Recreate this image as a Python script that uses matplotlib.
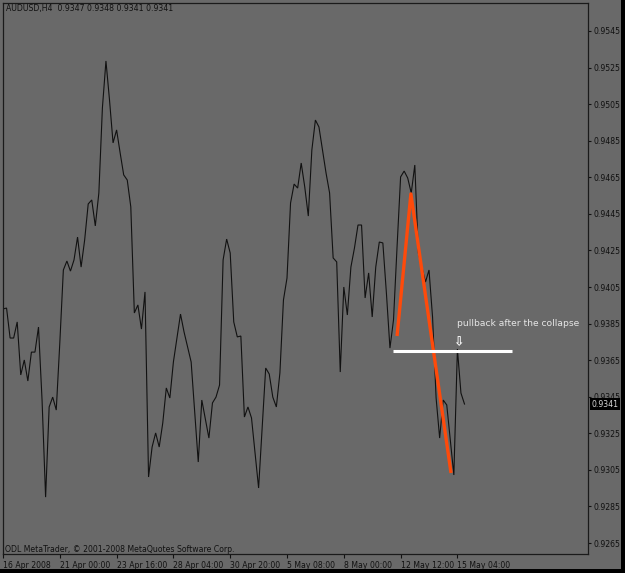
import matplotlib
matplotlib.use("Agg")
import matplotlib.pyplot as plt
from matplotlib.patches import Rectangle
from matplotlib.transforms import blended_transform_factory

# ---------------- data ----------------
bars = [0, 1, 2, 3, 4, 5, 6, 7, 8, 9, 10, 11, 12, 13, 14, 15, 16, 17, 18, 19,
        20, 21, 22, 23, 24, 25, 26, 27, 28, 29, 30, 31, 32, 33, 34, 35, 36, 37,
        38, 39, 40, 41, 42, 43, 44, 45, 46, 47, 48, 50, 51, 53, 55, 56, 58, 59,
        60, 61, 62, 63, 64, 65, 66, 67, 68, 69, 70, 72, 73, 74, 75, 76, 77, 78,
        79, 80, 81, 82, 83, 84, 85, 86, 87, 88, 89, 90, 91, 92, 93, 94, 95, 96,
        97, 98, 99, 100, 101, 102, 103, 104, 105, 106, 107, 108, 109, 110, 111,
        112, 113, 114, 115, 116, 117, 118, 119, 120, 121, 122, 123, 124, 125,
        127, 128, 129, 130]
close = [0.93930, 0.93935, 0.93771, 0.93771, 0.93859, 0.93569, 0.93651, 0.93536,
         0.93694, 0.93694, 0.93831, 0.93432, 0.92901, 0.93394, 0.93448, 0.93377,
         0.93744, 0.94143, 0.94192, 0.94137, 0.94198, 0.94323, 0.94159, 0.94307,
         0.94504, 0.94526, 0.94384, 0.94564, 0.95029, 0.95286, 0.95073, 0.94838,
         0.94909, 0.94783, 0.94663, 0.94635, 0.94488, 0.93908, 0.93952, 0.93820,
         0.94023, 0.93011, 0.93175, 0.93252, 0.93175, 0.93306, 0.93498, 0.93443,
         0.93640, 0.93902, 0.93804, 0.93640, 0.93093, 0.93432, 0.93224, 0.93416,
         0.93448, 0.93514, 0.94198, 0.94312, 0.94236, 0.93859, 0.93777, 0.93782,
         0.93339, 0.93394, 0.93334, 0.92951, 0.93279, 0.93607, 0.93574, 0.93448,
         0.93394, 0.93580, 0.93979, 0.94099, 0.94509, 0.94613, 0.94591, 0.94728,
         0.94597, 0.94438, 0.94799, 0.94963, 0.94925, 0.94799, 0.94673, 0.94564,
         0.94209, 0.94187, 0.93585, 0.94050, 0.93897, 0.94159, 0.94263, 0.94389,
         0.94389, 0.93990, 0.94127, 0.93886, 0.94159, 0.94296, 0.94291, 0.94017,
         0.93716, 0.93870, 0.94269, 0.94652, 0.94684, 0.94646, 0.94564, 0.94717,
         0.94236, 0.94159, 0.94077, 0.94143, 0.93886, 0.93443, 0.93224, 0.93432,
         0.93405, 0.93022, 0.93711, 0.93470, 0.93410]

tick_bars = [0, 16, 32, 48, 64, 80, 96, 112, 128]
tick_labels = ["16 Apr 2008", "21 Apr 00:00", "23 Apr 16:00", "28 Apr 04:00",
               "30 Apr 20:00", "5 May 08:00", "8 May 00:00", "12 May 12:00",
               "15 May 04:00"]
price_ticks = [0.9265, 0.9285, 0.9305, 0.9325, 0.9345, 0.9365, 0.9385, 0.9405,
               0.9425, 0.9445, 0.9465, 0.9485, 0.9505, 0.9525, 0.9545]

trend_x = [111.0, 114.9, 126.2]
trend_y = [0.93782, 0.94559, 0.93033]
level_x = [109.9, 143.4]
level_y = 0.93700
arrow_bar, arrow_price = 128.4, 0.93748
note_bar, note_price = 127.9, 0.93853
header = "AUDUSD,H4  0.9347 0.9348 0.9341 0.9341"
last_price = 0.9341

# ---------------- figure ----------------
BG = "#696969"
W, H = 625, 573
fig = plt.figure(figsize=(W / 100, H / 100), dpi=100, facecolor=BG)
ax = fig.add_axes([3 / W, 1 - 554 / H, 585 / W, 551 / H], facecolor=BG)

plt.rcParams["font.family"] = ["DejaVu Sans"]
fs = 5.6

ax.plot(bars, close, color="#111111", lw=0.8, solid_joinstyle="miter")
ax.plot(trend_x, trend_y, color="#ff4a0a", lw=2.4, solid_capstyle="butt")
ax.plot(level_x, [level_y, level_y], color="white", lw=2.2, solid_capstyle="butt")
ax.text(arrow_bar, arrow_price, "\u21e9", color="white", fontsize=9,
        fontweight="bold", ha="center", va="center")
ax.text(note_bar, note_price, "pullback after the collapse", color="#e6e6e6",
        fontsize=6.6, ha="left", va="center")

ax.set_xlim(0, 585 / 3.55)
ax.set_ylim(0.92590, 0.95603)

ax.set_xticks(tick_bars)
ax.set_xticklabels(tick_labels, fontsize=fs, color="#111111")
for lab in ax.get_xticklabels():
    lab.set_ha("left")
ax.tick_params(axis="x", direction="out", length=3, width=0.8, color="#111111",
               pad=2)

ax.yaxis.tick_right()
ax.set_yticks(price_ticks)
ax.set_yticklabels([f"{p:.4f}" for p in price_ticks], fontsize=fs, color="#111111")
ax.tick_params(axis="y", direction="out", length=2.5, width=0.8, color="#111111",
               pad=1.5)

for s in ax.spines.values():
    s.set_color("#1a1a1a")
    s.set_linewidth(0.9)

# current price box
tr = blended_transform_factory(ax.transAxes, ax.transData)
ax.text(1.006, last_price, f"{last_price:.4f}", transform=tr, fontsize=fs,
        color="#d8d8d8", ha="left", va="center", clip_on=False, zorder=10,
        bbox=dict(boxstyle="square,pad=0.15", facecolor="black", edgecolor="none"))

fig.text(6 / W, 1 - 8.5 / H, header, fontsize=fs, color="#111111",
         ha="left", va="center")
fig.text(5 / W, 1 - 550 / H, "ODL MetaTrader, \u00a9 2001-2008 MetaQuotes Software Corp.",
         fontsize=fs, color="#111111", ha="left", va="center")

# black frame strips on right and bottom edges
fig.patches.append(Rectangle((621 / W, 0), 4 / W, 1, transform=fig.transFigure,
                             facecolor="black", edgecolor="none"))
fig.patches.append(Rectangle((0, 0), 1, 4 / H, transform=fig.transFigure,
                             facecolor="black", edgecolor="none"))

fig.savefig("out.png", dpi=100, facecolor=BG)
